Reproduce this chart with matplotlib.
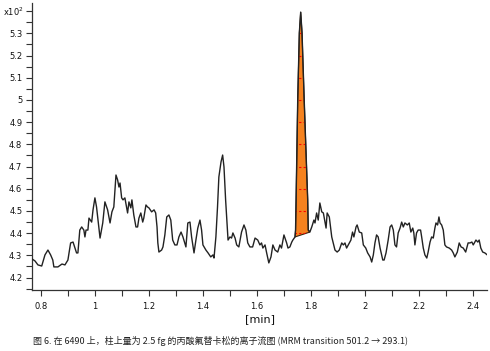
import matplotlib
matplotlib.use("Agg")
from matplotlib import pyplot as plt
from matplotlib.patches import Polygon
from matplotlib.ticker import MultipleLocator, FormatStrFormatter
import numpy as np

# retention time [min] and counts (x10^2)
time = [0.767, 0.778, 0.789, 0.803, 0.815, 0.826, 0.836, 0.844, 0.848, 0.863,
        0.878, 0.889, 0.900, 0.910, 0.919, 0.932, 0.937, 0.944, 0.951, 0.959,
        0.963, 0.967, 0.974, 0.978, 0.988, 0.993, 1.000, 1.006, 1.019, 1.029,
        1.037, 1.047, 1.056, 1.063, 1.070, 1.078, 1.084, 1.089, 1.093, 1.099,
        1.104, 1.111, 1.117, 1.121, 1.126, 1.133, 1.137, 1.144, 1.152, 1.158,
        1.163, 1.170, 1.177, 1.181, 1.189, 1.195, 1.200, 1.210, 1.219, 1.225,
        1.230, 1.233, 1.237, 1.247, 1.252, 1.259, 1.266, 1.274, 1.281, 1.288,
        1.296, 1.304, 1.311, 1.319, 1.326, 1.337, 1.344, 1.352, 1.358, 1.367,
        1.374, 1.381, 1.389, 1.395, 1.400, 1.411, 1.419, 1.429, 1.437, 1.441,
        1.448, 1.454, 1.459, 1.467, 1.473, 1.478, 1.484, 1.489, 1.493, 1.500,
        1.506, 1.511, 1.519, 1.525, 1.533, 1.543, 1.552, 1.559, 1.566, 1.574,
        1.584, 1.593, 1.603, 1.611, 1.617, 1.622, 1.630, 1.636, 1.644, 1.652,
        1.659, 1.667, 1.677, 1.685, 1.691, 1.700, 1.710, 1.715, 1.722, 1.729,
        1.733, 1.741, 1.743, 1.745, 1.751, 1.757, 1.762, 1.767, 1.775, 1.788,
        1.790, 1.796, 1.803, 1.811, 1.815, 1.821, 1.827, 1.833, 1.840, 1.846,
        1.856, 1.860, 1.868, 1.877, 1.889, 1.897, 1.905, 1.914, 1.920, 1.926,
        1.932, 1.942, 1.948, 1.954, 1.959, 1.967, 1.971, 1.979, 1.988, 1.994,
        2.003, 2.010, 2.019, 2.025, 2.031, 2.037, 2.043, 2.049, 2.056, 2.066,
        2.071, 2.078, 2.086, 2.093, 2.099, 2.105, 2.111, 2.117, 2.123, 2.130,
        2.136, 2.142, 2.148, 2.157, 2.164, 2.170, 2.177, 2.181, 2.185, 2.191,
        2.197, 2.206, 2.210, 2.216, 2.222, 2.229, 2.234, 2.241, 2.247, 2.253,
        2.259, 2.263, 2.269, 2.274, 2.278, 2.284, 2.290, 2.296, 2.302, 2.312,
        2.321, 2.327, 2.333, 2.342, 2.349, 2.356, 2.364, 2.373, 2.382, 2.389,
        2.396, 2.401, 2.411, 2.418, 2.423, 2.429, 2.436, 2.444, 2.453]
counts = [4.284, 4.275, 4.257, 4.252, 4.302, 4.324, 4.302, 4.279, 4.248, 4.248,
          4.261, 4.257, 4.279, 4.356, 4.360, 4.311, 4.311, 4.414, 4.428, 4.414,
          4.383, 4.414, 4.414, 4.468, 4.450, 4.505, 4.559, 4.518, 4.378, 4.446,
          4.541, 4.505, 4.446, 4.496, 4.518, 4.662, 4.640, 4.608, 4.626, 4.559,
          4.550, 4.559, 4.518, 4.491, 4.541, 4.514, 4.550, 4.482, 4.428, 4.428,
          4.468, 4.491, 4.450, 4.468, 4.527, 4.518, 4.514, 4.496, 4.505, 4.491,
          4.428, 4.356, 4.315, 4.324, 4.338, 4.392, 4.473, 4.482, 4.459, 4.369,
          4.347, 4.347, 4.383, 4.405, 4.383, 4.338, 4.446, 4.450, 4.383, 4.311,
          4.369, 4.423, 4.459, 4.414, 4.347, 4.324, 4.311, 4.293, 4.302, 4.288,
          4.383, 4.518, 4.653, 4.721, 4.752, 4.698, 4.550, 4.446, 4.369, 4.383,
          4.378, 4.401, 4.378, 4.347, 4.338, 4.405, 4.437, 4.414, 4.356, 4.338,
          4.338, 4.378, 4.369, 4.347, 4.356, 4.333, 4.347, 4.311, 4.266, 4.293,
          4.347, 4.324, 4.315, 4.347, 4.333, 4.392, 4.356, 4.333, 4.338, 4.360,
          4.369, 4.383, 4.414, 4.550, 5.000, 5.302, 5.396, 5.302, 5.000, 4.550,
          4.414, 4.405, 4.428, 4.459, 4.446, 4.491, 4.459, 4.536, 4.496, 4.491,
          4.423, 4.491, 4.473, 4.383, 4.324, 4.315, 4.324, 4.356, 4.347, 4.356,
          4.333, 4.356, 4.369, 4.405, 4.383, 4.428, 4.437, 4.405, 4.401, 4.347,
          4.333, 4.311, 4.293, 4.270, 4.302, 4.356, 4.392, 4.383, 4.333, 4.279,
          4.279, 4.311, 4.369, 4.428, 4.437, 4.414, 4.347, 4.338, 4.401, 4.423,
          4.450, 4.428, 4.446, 4.437, 4.446, 4.405, 4.423, 4.401, 4.347, 4.401,
          4.414, 4.414, 4.383, 4.333, 4.302, 4.288, 4.315, 4.360, 4.383, 4.378,
          4.423, 4.446, 4.437, 4.473, 4.446, 4.437, 4.414, 4.347, 4.338, 4.333,
          4.324, 4.311, 4.293, 4.315, 4.356, 4.338, 4.333, 4.315, 4.356, 4.356,
          4.360, 4.347, 4.369, 4.360, 4.369, 4.333, 4.315, 4.311, 4.302]

# integration window of the peak
peak_start = 1.741
peak_end = 1.796

caption = "图 6. 在 6490 上，柱上量为 2.5 fg 的丙酸氟替卡松的离子流图 (MRM transition 501.2 → 293.1)"

t = np.array(time)
c = np.array(counts)

fig = plt.figure(figsize=(4.9, 3.51), dpi=100)
ax = fig.add_axes([0.0653, 0.1738, 0.9286, 0.8177])

# integrated peak area with straight baseline
m = (t >= peak_start) & (t <= peak_end)
tp, cp = t[m], c[m]
verts = list(zip(tp, cp)) + [(tp[-1], cp[-1]), (tp[0], cp[0])]
area = Polygon(verts, closed=True, facecolor="#f5821f", edgecolor="#3b2410", lw=0.8, zorder=2)
ax.add_patch(area)
for yv in np.arange(4.2, 5.35, 0.1):
    ln = ax.axhline(yv, color="red", lw=0.8, ls=(0, (2, 2)), zorder=3)
    ln.set_clip_path(area)

ax.plot(t, c, color="#222222", lw=1.0, zorder=4)

ax.set_xlim(0.767, 2.452)
ax.set_ylim(4.144, 5.437)

for s in ["top", "right"]:
    ax.spines[s].set_visible(False)
for s in ["left", "bottom"]:
    ax.spines[s].set_color("#333333")
    ax.spines[s].set_linewidth(0.9)

ax.xaxis.set_major_locator(MultipleLocator(0.2))
ax.xaxis.set_minor_locator(MultipleLocator(0.1))
ax.yaxis.set_major_locator(MultipleLocator(0.1))
ax.yaxis.set_minor_locator(MultipleLocator(0.05))
ax.xaxis.set_major_formatter(FormatStrFormatter("%g"))
ax.yaxis.set_major_formatter(FormatStrFormatter("%g"))
ax.set_yticks([v for v in np.round(np.arange(4.2, 5.35, 0.1), 1)])
ax.tick_params(which="both", direction="out", length=4, width=0.8, color="#333333",
               labelsize=6, labelcolor="#111111")
ax.tick_params(axis="y", pad=3)
ax.tick_params(axis="x", pad=5)

ax.set_xlabel("[min]", fontsize=8, labelpad=2, color="#111111")
fig.text(0.006, 0.966, r"x10$^{2}$", fontsize=6, color="#111111", va="center")

fig.text(0.067, 0.028, caption, fontsize=6.5, va="center", color="#222222",
         family=["Noto Sans CJK SC", "DejaVu Sans"])

fig.savefig("out.png", dpi=100)
